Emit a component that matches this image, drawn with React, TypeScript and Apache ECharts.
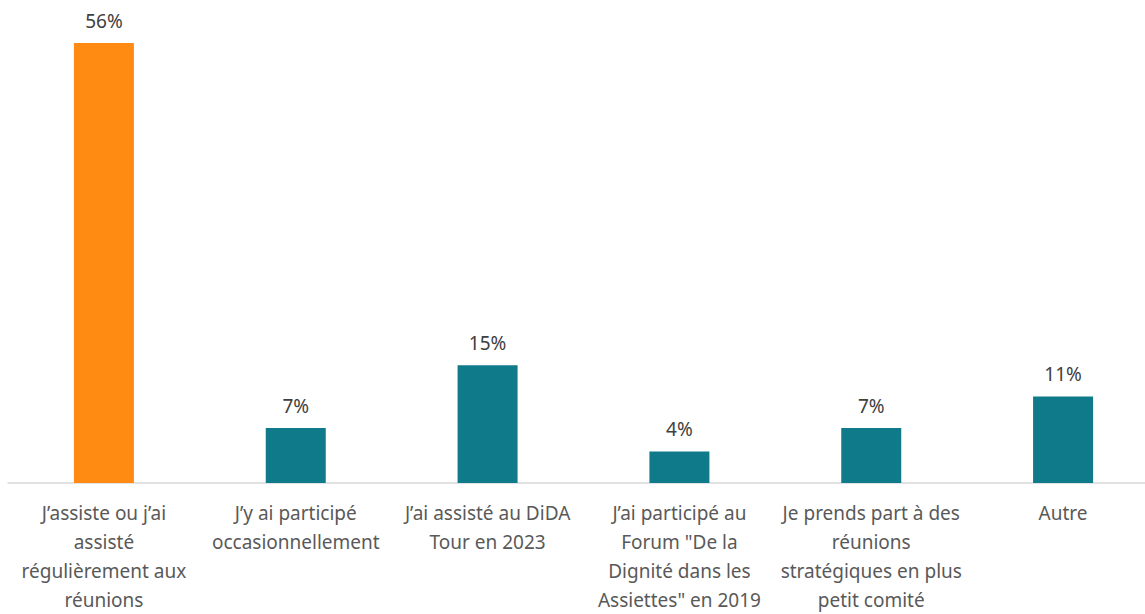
import React, { useEffect, useRef } from "react";
import * as echarts from "echarts";

const categories = [
  "J’assiste ou j’ai\nassisté\nrégulièrement aux\nréunions",
  "J’y ai participé\noccasionnellement",
  "J’ai assisté au DiDA\nTour en 2023",
  "J’ai participé au\nForum \"De la\nDignité dans les\nAssiettes\" en 2019",
  "Je prends part à des\nréunions\nstratégiques en plus\npetit comité",
  "Autre",
];
const values = [56, 7, 15, 4, 7, 11];
const highlightIndex = 0;

export default function App() {
  const ref = useRef<HTMLDivElement>(null);
  useEffect(() => {
    if (!ref.current) return;
    const chart = echarts.init(ref.current, null, { renderer: "svg" });
    chart.setOption({
      animation: false,
      grid: {
        left: 8,
        right: -14,
        top: 43,
        bottom: 131,
        containLabel: false,
        outerBoundsMode: "none",
      },
      xAxis: {
        type: "category",
        data: categories,
        axisLine: { show: true, lineStyle: { color: "#d9d9d9", width: 1.5 } },
        axisTick: { show: false },
        axisLabel: {
          interval: 0,
          margin: 15,
          color: "#595959",
          fontSize: 19,
          fontFamily: "Noto Sans",
          lineHeight: 29,
          align: "center",
          hideOverlap: false,
        },
      },
      yAxis: {
        type: "value",
        min: 0,
        max: 56,
        show: false,
        splitLine: { show: false },
      },
      series: [
        {
          type: "bar",
          barWidth: 60,
          data: values.map((v, i) => ({
            value: v,
            itemStyle: { color: i === highlightIndex ? "#FF8B13" : "#0F7B8A" },
          })),
          label: {
            show: true,
            position: "top",
            distance: 13,
            formatter: "{c}%",
            color: "#404040",
            fontSize: 19,
            fontFamily: "Noto Sans",
          },
        },
      ],
    });
    return () => chart.dispose();
  }, []);
  return (
    <div
      ref={ref}
      style={{ position: "absolute", left: 0, top: 0, width: 1145, height: 614, background: "#fff" }}
    />
  );
}
